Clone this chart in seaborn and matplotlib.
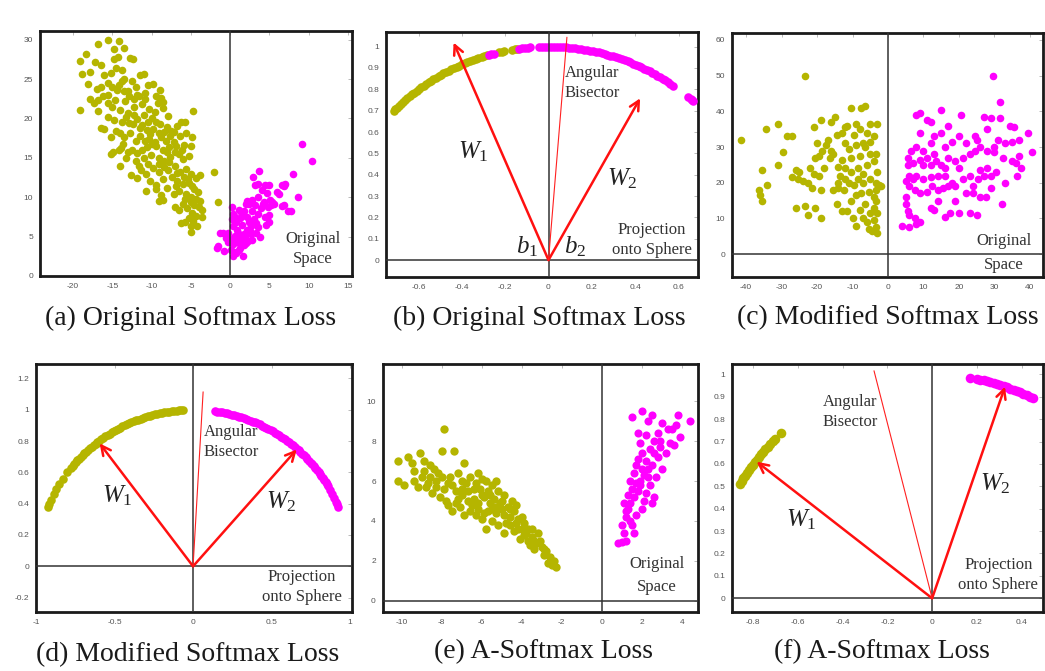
import numpy as np
import matplotlib
matplotlib.use("Agg")
import matplotlib.pyplot as plt
import seaborn as sns

OLIVE = "#b5b500"
MAGENTA = "#ff00ff"

# ---- (a) original space ----
a_olive = [
    (-15.5, 30), (-14.2, 29.8), (-13.5, 29), (-14.8, 28.8), (-16.8, 29.5), (-18.3, 28.2), (-19.1, 27.3),
    (-17.2, 27.2), (-16.5, 26.8), (-18.8, 25.7), (-17.8, 25.9), (-16.1, 25.5), (-15.2, 25.8), (-14.3, 27.8),
    (-12.8, 27.7), (-12.4, 27.6), (-14.8, 27.6), (-14.5, 26.4), (-13.8, 26.2),
    (-18.1, 24.4), (-17.0, 23.8), (-16.4, 24.0), (-15.6, 24.5), (-15.0, 24.0), (-14.2, 24.2), (-13.5, 23.5),
    (-12.5, 24.8), (-11.5, 25.5), (-11.0, 25.6), (-10.4, 24.3), (-9.8, 24.4), (-8.9, 23.6), (-8.8, 22.6),
    (-8.5, 22.1), (-9.5, 22.8), (-10.8, 23.2), (-11.9, 23.0), (-12.9, 22.9), (-13.4, 22.2), (-14.7, 22.4),
    (-15.6, 22.0), (-16.8, 22.3), (-17.3, 21.9), (-19.1, 21.1), (-15.1, 21.4), (-14.0, 21.1), (-13.0, 20.7),
    (-12.2, 21.5), (-11.2, 21.8), (-10.3, 21.2), (-9.6, 20.8), (-8.6, 21.3), (-4.7, 21.0), (-14.4, 23.6),
    (-13.8, 24.8), (-12.0, 24.0), (-10.8, 22.5), (-9.2, 21.9), (-7.9, 20.3), (-15.5, 23.0),
    (-16.5, 18.8), (-16.0, 18.6), (-15.2, 17.6), (-14.5, 18.4), (-14.0, 18.2), (-13.5, 17.7), (-12.9, 19.4),
    (-12.4, 19.3), (-11.8, 19.9), (-11.2, 19.2), (-10.6, 18.5), (-10.2, 18.0), (-9.8, 18.6), (-9.4, 19.5),
    (-8.9, 19.3), (-8.0, 18.9), (-7.5, 18.4), (-6.8, 19.1), (-6.2, 19.5), (-5.8, 19.6), (-5.6, 18.2),
    (-6.4, 17.8), (-7.2, 17.0), (-7.8, 16.4), (-8.5, 16.0), (-9.4, 16.5), (-10.0, 16.8), (-10.6, 16.4),
    (-11.2, 16.0), (-11.8, 15.6), (-12.5, 16.0), (-13.0, 15.8), (-13.6, 16.8), (-14.2, 16.0), (-14.9, 15.8),
    (-15.2, 15.5), (-13.9, 16.2), (-10.3, 17.4), (-9.6, 17.0), (-8.8, 17.6), (-8.2, 17.2), (-6.9, 16.5),
    (-5.9, 16.6), (-5.0, 16.5), (-4.8, 17.6), (-5.3, 15.2), (-6.5, 15.5), (-7.6, 15.1), (-9.0, 15.0),
    (-10.1, 15.4), (-11.0, 15.0), (-12.0, 17.2), (-12.8, 18.2), (-11.5, 17.8), (-14.8, 19.8), (-15.6, 20.2),
    (-13.2, 20.2),
    (-14.0, 13.9), (-12.0, 14.6), (-11.3, 13.5), (-10.5, 14.2), (-9.8, 13.7), (-9.0, 13.2), (-8.4, 13.8),
    (-7.8, 14.5), (-7.0, 14.0), (-6.4, 13.2), (-5.6, 13.6), (-5.0, 13.0), (-4.4, 12.4), (-3.9, 12.8),
    (-2.0, 13.2), (-12.6, 12.8), (-11.9, 12.5), (-10.2, 12.0), (-9.4, 11.6), (-8.6, 12.3), (-8.0, 11.2),
    (-7.4, 12.6), (-6.8, 12.1), (-6.0, 11.7), (-5.2, 11.8), (-4.6, 11.0), (-4.1, 10.6), (-5.6, 10.4),
    (-6.5, 10.8), (-8.8, 10.3), (-10.7, 10.8), (-5.0, 10.0), (-7.2, 10.4), (-9.5, 11.0), (-8.4, 14.6),
    (-13.2, 15.0), (-6.0, 14.8),
    (-8.5, 9.6), (-7.0, 8.7), (-6.0, 9.2), (-5.5, 8.6), (-5.0, 9.4), (-4.6, 9.0), (-4.0, 8.8),
    (-3.6, 8.4), (-3.8, 9.5), (-4.8, 8.0), (-4.4, 7.6), (-3.6, 7.5), (-5.3, 7.4), (-6.5, 8.4),
    (-5.8, 6.8), (-5.0, 6.4), (-4.2, 6.3), (-6.2, 6.7), (-5.0, 5.6), (-1.5, 9.4), (-4.7, 7.0), (-9.0, 9.5),
    (-13.0, 23.5), (-12.3, 22.5), (-11.6, 22.8), (-11.0, 20.5), (-10.5, 19.6), (-9.9, 20.0), (-9.1, 18.2),
    (-8.4, 18.3), (-7.7, 17.8), (-7.1, 18.3), (-10.8, 17.2), (-11.5, 18.8), (-12.3, 20.4), (-13.8, 19.5),
    (-9.0, 14.2), (-8.0, 15.8), (-7.0, 15.8), (-6.1, 16.0), (-7.9, 13.4), (-6.8, 13.1), (-5.9, 12.6),
    (-5.4, 12.3), (-6.9, 11.4), (-4.9, 11.4), (-4.3, 9.8), (-5.7, 9.8), (-11.6, 14.0), (-10.7, 13.0),
    (-13.5, 25.0), (-16.2, 22.8), (-17.8, 22.5), (-16.8, 21.0),
]
a_magenta = [
    (9.2, 16.7), (10.4, 14.6), (8.0, 12.9), (7.0, 11.7), (6.6, 11.5), (5.9, 10.7), (8.6, 10.0),
    (7.4, 8.3), (6.6, 8.9), (5.3, 9.4), (3.7, 13.3), (2.9, 12.6), (3.5, 11.7), (4.45, 11.5),
    (4.7, 10.5), (5.1, 9.6), (4.3, 9.4), (3.6, 10.0), (2.8, 9.7), (2.4, 9.2), (2.0, 9.1),
    (1.8, 8.3), (0.2, 8.7), (0.6, 7.5), (1.2, 7.3), (2.2, 7.5), (2.75, 8.3), (3.6, 7.9),
    (4.4, 7.5), (5.0, 7.7), (3.3, 6.7), (2.7, 6.3), (2.1, 5.9), (1.5, 6.5), (0.9, 5.9),
    (0.3, 6.3), (-0.9, 5.5), (-0.3, 5.5), (0.6, 5.1), (1.2, 5.1), (1.8, 5.3), (2.7, 5.3),
    (3.3, 5.5), (0.9, 4.3), (0.3, 4.1), (-0.3, 4.3), (1.5, 4.3), (2.3, 4.5), (-1.6, 3.8),
    (0.1, 3.3), (0.7, 2.9), (0.3, 2.5), (1.1, 3.3), (1.8, 3.9), (0.2, 7.2), (1.4, 8.1),
    (-1.7, 3.5), (-1.3, 5.4), (0.8, 6.8), (1.5, 7.6), (2.4, 6.9), (3.0, 7.2), (3.9, 8.6),
    (4.2, 9.1), (3.1, 9.0), (1.0, 5.5), (1.9, 4.9), (2.5, 5.7), (0.4, 4.8), (1.3, 3.6),
    (2.0, 4.2), (3.6, 6.2), (4.8, 8.8), (5.6, 9.2), (6.2, 10.4), (4.0, 10.9), (3.2, 11.5),
    (4.9, 11.6), (0.5, 3.0), (1.6, 2.6), (-0.5, 4.8), (-0.8, 3.2), (2.8, 4.6), (3.8, 5.0),
    (5.2, 9.0), (6.8, 9.0), (7.8, 8.2), (6.9, 11.4), (5.0, 6.8), (4.5, 6.5), (1.1, 8.4),
    (2.1, 9.5), (0.3, 7.9),
]

# ---- (c) modified softmax, original space ----
c_olive = [
    (-23.5, 50), (-41.5, 32), (-34.5, 35), (-31, 36.5), (-28.5, 33), (-27, 33), (-29.5, 28.5), (-31, 25),
    (-35.5, 23.5), (-34, 19.5), (-36.5, 18), (-36, 16.5), (-35.5, 15), (-26, 13), (-23.5, 13.5), (-22.5, 11),
    (-20.5, 13), (-19, 10), (-26, 23.5), (-25, 23), (-27, 21.5), (-25.5, 21), (-24, 20.5), (-22.5, 20),
    (-21.5, 18.5), (-19, 18), (-19.5, 22), (-21, 22.5), (-22, 24), (-20.5, 27), (-19.5, 27.5), (-18.5, 29),
    (-17.5, 30.5), (-17, 32), (-20, 31), (-21, 35.5), (-19, 37.5), (-16, 37), (-15, 38.5), (-16.5, 27),
    (-15.5, 28), (-14.5, 33.5), (-13, 34), (-12, 35.5), (-10.5, 41), (-11.5, 36), (-7.5, 41), (-6.5, 41.5),
    (-9, 36.5), (-8, 35), (-6, 34), (-5, 36.5), (-3, 36.5), (-4, 33), (-5, 31.5), (-7, 31), (-9, 30.5),
    (-11, 29.5), (-13, 26.5), (-14, 24.5), (-12, 24), (-10.5, 23), (-8.5, 21), (-7, 22.5), (-6, 25),
    (-4, 26), (-3.5, 28), (-5, 28), (-8, 27.5), (-10.5, 27), (-12, 21), (-14, 20), (-15.5, 18), (-14, 18.5),
    (-12.5, 18), (-11, 20), (-9.5, 19.5), (-7, 20), (-5, 21), (-3.5, 20), (-2.5, 19), (-3.5, 18),
    (-5.5, 17.5), (-7.5, 17), (-9, 16.5), (-10.5, 15), (-14.5, 14), (-13, 12), (-11.5, 12), (-10, 10),
    (-9, 8), (-7, 10), (-6, 9), (-5, 11.5), (-4, 13), (-3.5, 15), (-3, 11.5), (-4, 9.5), (-3.5, 7.5),
    (-4.5, 6.5), (-3, 6), (-5.5, 7), (-2.5, 19.5), (-6.5, 14), (-8, 12.5), (-4, 16), (-18, 24), (-16, 29),
    (-9.5, 33.5), (-6.5, 30), (-2, 19), (-3, 23), (-8.5, 24), (-12, 31), (-13.5, 22),
]
c_magenta = [
    (29.5, 50), (31.5, 42.5), (15, 40.5), (8, 39), (9, 39.5), (11, 37.5), (12, 37), (20.5, 39), (27, 38.5),
    (29, 38), (31.5, 38), (17, 36), (15, 34), (9, 34), (35.5, 35.5), (39.5, 34), (37, 32), (35, 31.5),
    (28, 35), (24.5, 33), (25, 32), (22, 31), (20, 33), (18, 31.5), (16, 30), (13, 33), (12, 31), (10, 29),
    (8, 30), (6.5, 29), (5.5, 27), (7, 25.5), (9, 26.5), (11, 27), (12, 25), (13.5, 26), (15, 25), (16, 24),
    (17, 27), (19, 26), (21, 27), (23, 28), (24.5, 29), (26, 30), (28, 29), (30, 30), (31, 32), (30, 28.5),
    (32.5, 27), (35, 26), (36, 25.5), (37, 27.5), (36.5, 22), (37.5, 24), (40.5, 28.5), (33, 20), (32, 14),
    (29, 18.5), (27.5, 16), (26, 16), (24, 17), (22, 17), (24, 19), (25.5, 21), (27, 22), (29, 22),
    (30.5, 23), (28, 24), (26, 23.5), (23, 22), (21, 21), (19, 19), (17, 19), (15.5, 18.5), (14, 18),
    (12.5, 19), (11, 17.5), (9, 17), (7.5, 18), (6, 19), (5, 20.5), (6, 22), (8, 22), (10, 21), (12, 21.5),
    (14, 22), (16, 22), (5.5, 25), (5, 16), (5, 14), (5.5, 12), (6, 11), (7.5, 10), (8, 8.5), (9, 9),
    (4, 8), (6, 7.5), (12, 13), (13, 12.5), (14, 15), (16, 10.5), (17.5, 11.5), (20, 11.5), (23, 11.5),
    (25, 11), (19, 15), (18, 20), (20, 24), (13, 28), (10, 25), (7, 21), (33, 31), (34.5, 36),
]

# ---- (e) A-softmax, original space ----
e_olive = [
    (-10.2, 7.0), (-10.2, 6.0), (-9.9, 5.8), (-9.7, 7.2), (-9.4, 6.5), (-9.1, 7.4), (-8.9, 7.0), (-8.6, 6.8),
    (-9.0, 6.2), (-9.2, 5.7), (-8.8, 5.7), (-8.4, 6.6), (-8.0, 7.5), (-7.9, 8.6), (-7.4, 7.5), (-8.3, 6.0),
    (-8.5, 5.4), (-8.1, 5.2), (-7.7, 5.9), (-7.2, 6.4), (-6.9, 6.9), (-6.6, 6.2), (-6.3, 5.9), (-6.0, 6.1),
    (-5.8, 6.0), (-5.5, 5.8), (-5.2, 5.5), (-7.8, 5.0), (-7.3, 4.9), (-7.0, 5.3), (-6.7, 5.5), (-6.5, 4.8),
    (-6.2, 4.6), (-5.9, 5.2), (-5.6, 4.9), (-5.3, 4.4), (-5.0, 5.0), (-4.7, 4.7), (-4.4, 4.5), (-4.8, 3.9),
    (-5.5, 4.0), (-6.0, 4.1), (-6.9, 4.3), (-7.5, 4.5), (-7.7, 4.8), (-4.2, 4.1), (-4.0, 3.6), (-3.8, 3.4),
    (-3.5, 3.2), (-3.3, 2.9), (-3.0, 2.7), (-2.8, 2.5), (-2.6, 2.2), (-2.4, 2.0), (-2.3, 1.7), (-2.5, 1.8),
    (-2.9, 2.3), (-3.4, 2.6), (-3.7, 3.0), (-4.1, 3.1), (-4.4, 3.5), (-4.9, 3.4), (-5.2, 3.8), (-5.8, 3.6),
    (-6.3, 4.3), (-7.1, 4.7), (-8.7, 5.9), (-6.1, 5.6), (-5.4, 5.1), (-4.6, 4.2), (-3.9, 3.9), (-3.2, 3.4),
    (-7.6, 6.2), (-6.8, 5.9), (-5.0, 4.6), (-4.5, 5.0), (-6.4, 5.1), (-8.2, 6.4), (-9.5, 6.9), (-7.0, 5.6),
    (-3.6, 2.8), (-2.7, 1.9), (-5.7, 4.5), (-4.3, 3.9),
    (-8.0, 6.2), (-7.5, 5.8), (-7.2, 5.1), (-6.7, 5.0), (-6.4, 5.6), (-6.0, 5.3), (-5.7, 5.5), (-5.5, 4.6),
    (-5.1, 4.9), (-4.9, 4.3), (-4.6, 3.8), (-4.2, 3.6), (-3.9, 3.3), (-3.7, 3.6), (-3.4, 3.0), (-3.1, 3.0),
    (-2.9, 2.6), (-8.6, 6.2), (-8.9, 6.5), (-7.3, 5.5), (-6.2, 4.9), (-5.9, 4.4), (-5.3, 4.7), (-4.6, 4.6),
    (-4.0, 4.2), (-3.5, 3.6), (-6.6, 4.5), (-7.9, 5.6), (-8.3, 5.7), (-9.4, 6.0), (-7.0, 6.0), (-6.2, 6.4),
    (-5.6, 5.3), (-4.9, 5.3), (-5.3, 6.0), (-4.3, 4.8),
]
e_magenta = [
    (0.8, 2.9), (1.0, 2.95), (1.2, 3.0), (1.1, 3.4), (1.0, 3.8), (1.2, 4.2), (1.4, 4.0), (1.1, 4.9), (1.4, 4.9),
    (1.6, 5.2), (1.5, 5.6), (1.8, 5.5), (1.4, 6.0), (1.6, 6.4), (1.9, 6.0), (2.0, 6.6), (1.7, 6.8), (2.2, 7.0),
    (2.0, 7.4), (2.4, 7.6), (1.9, 7.9), (2.6, 8.0), (2.2, 8.3), (2.8, 8.4), (3.0, 8.9), (2.5, 9.3), (2.0, 9.5),
    (1.5, 9.2), (3.3, 8.6), (3.8, 9.3), (4.4, 9.0), (3.5, 8.6), (3.6, 7.8), (3.9, 8.2), (3.2, 7.4), (2.8, 7.2),
    (2.5, 6.8), (2.7, 6.2), (2.4, 5.8), (2.2, 5.4), (2.5, 4.9), (2.0, 4.6), (1.7, 4.3), (1.5, 3.8), (3.0, 6.6),
    (3.4, 7.9), (2.9, 8.0), (1.3, 4.6), (2.3, 6.2), (1.8, 7.1), (2.6, 5.2), (1.6, 3.4), (2.1, 5.0), (3.7, 8.8),
    (2.3, 9.0), (1.8, 8.4), (1.9, 5.8), (2.1, 6.3), (2.3, 6.6), (1.7, 5.9), (2.6, 7.4), (2.9, 7.7),
    (1.3, 5.3), (1.2, 4.5),
]

# ---- projections onto the unit circle: angles in degrees ----
b_olive_deg = [106.5, 107.3, 108.0, 108.9, 109.6, 110.4, 111.2, 112.0, 112.8, 113.5, 114.3, 115.1, 115.9,
               116.6, 117.4, 118.2, 119.0, 119.7, 120.5, 121.3, 122.1, 122.8, 123.6, 124.4, 125.2, 125.9,
               126.7, 127.5, 128.3, 129.0, 129.8, 130.6, 131.4, 132.1, 132.9, 133.7, 134.5, 135.1, 135.6,
               103.3, 102.4, 101.8, 99.6, 98.9, 98.4]
b_magenta_deg = [106.0, 105.3, 104.7, 97.9, 97.0, 96.2, 95.5, 94.8,
                 92.6, 91.8, 91.0, 90.2, 89.4, 88.6, 87.8, 87.0, 86.2, 85.4, 84.6, 83.8, 83.0, 82.2, 81.4,
                 80.6, 79.8, 79.0, 78.2, 77.4, 76.6, 75.8, 75.0, 74.2, 73.4, 72.6, 71.8, 71.0, 70.2, 69.4,
                 68.6, 67.8, 67.0, 66.2, 65.4, 64.6, 63.8, 63.0, 62.2, 61.4, 60.6, 59.8, 59.0, 58.2, 57.4,
                 56.6, 55.8, 54.8, 49.8, 49.0, 48.4, 48.0]
d_olive_deg = [157.7, 156.6, 154.8, 152.3, 150.6, 148.3, 146.1, 143.2,
               141.0, 140.1, 139.2, 138.3, 137.4, 136.5, 135.6, 134.7, 133.8, 132.9, 132.0, 131.1, 130.2,
               129.3, 128.4, 127.5, 126.6, 125.7, 124.8, 123.9, 123.0, 122.1, 121.2, 120.3, 119.4, 118.5,
               117.6, 116.7, 115.8, 114.9, 114.0, 113.1, 112.2, 111.3, 110.4, 109.5, 108.6, 107.7, 106.8,
               105.9, 105.0, 104.1, 103.2, 102.3, 101.4, 100.5, 99.6, 98.7, 97.8, 96.9, 96.0, 95.1, 94.3, 93.7]
d_magenta_deg = [82.0, 81.1, 80.2, 79.3, 78.4, 77.5, 76.6, 75.7, 74.8, 73.9, 73.0, 72.1, 71.2, 70.3, 69.4,
                 68.5, 67.6, 66.7, 65.8, 64.9, 64.0, 63.1, 62.2, 61.3, 60.4, 59.5, 58.6, 57.7, 56.8, 55.9,
                 55.0, 54.1, 53.2, 52.3, 51.4, 50.5, 49.6, 48.7, 47.8, 46.9, 46.0, 45.1, 44.2, 43.3, 42.4,
                 41.5, 40.6, 39.7, 38.8, 37.9, 37.0, 36.1, 35.2, 34.3, 33.4, 32.5, 31.6, 30.7, 29.3,
                 27.5, 26.0, 24.4, 23.3, 22.3]
f_olive_deg = [149.3, 148.5, 147.6, 146.8, 145.9, 145.1, 144.2, 143.4, 142.5, 141.7, 140.8, 140.0, 139.1,
               138.3, 137.4, 136.5, 135.5, 134.5, 132.5]
f_magenta_deg = [80.3, 78.5, 77.6, 76.7, 75.8, 74.9, 74.0, 73.1, 72.2, 71.3, 70.4, 69.5, 68.6, 67.7, 66.8,
                 65.9, 65.0, 64.1, 63.3]

# weight vectors (arrow tips) and angular bisectors
b_w1, b_w2, b_bis = (-0.438, 1.019), (0.423, 0.758), (0.085, 1.044)
d_w1, d_w2, d_bis = (-0.595, 0.785), (0.66, 0.746), (0.064, 1.114)
f_w1, f_w2, f_bis = (-0.785, 0.61), (0.326, 0.945), (-0.26, 1.016)

captions = ["(a) Original Softmax Loss", "(b) Original Softmax Loss", "(c) Modified Softmax Loss",
            "(d) Modified Softmax Loss", "(e) A-Softmax Loss", "(f) A-Softmax Loss"]

sns.set_style("white")
plt.rcParams["font.family"] = ["Liberation Serif", "DejaVu Serif"]
plt.rcParams["mathtext.fontset"] = "custom"
plt.rcParams["mathtext.rm"] = "Liberation Serif"
plt.rcParams["mathtext.it"] = "Liberation Serif:italic"
plt.rcParams["axes.unicode_minus"] = False

W, H = 1045, 671
fig = plt.figure(figsize=(W / 100, H / 100), dpi=100)


def make_ax(l, r, t, b):
    return fig.add_axes([l / W, 1 - b / H, (r - l) / W, (b - t) / H])


def style(ax, xlim, ylim, xticks, yticks, hline=True):
    ax.set_xlim(*xlim)
    ax.set_ylim(*ylim)
    ax.set_xticks(xticks)
    ax.set_yticks(yticks)
    ax.set_xticklabels(["%g" % v for v in xticks], family="Liberation Sans")
    ax.set_yticklabels(["%g" % v for v in yticks], family="Liberation Sans")
    ax.tick_params(direction="in", length=3, width=0.6, color="#b0b0b0", top=True, right=True,
                   labelsize=6, labelcolor="#555555", pad=5)
    for sp in ax.spines.values():
        sp.set_linewidth(2)
        sp.set_color("#1a1a1a")
    ax.axvline(0, color="#333333", lw=1.1, zorder=4)
    if hline:
        ax.axhline(0, color="#333333", lw=1.1, zorder=4)
    ax.set_xlabel("")
    ax.set_ylabel("")


def scatter(ax, pts, color, s=30):
    xs = [p[0] for p in pts]
    ys = [p[1] for p in pts]
    sns.scatterplot(x=xs, y=ys, color=color, s=s, linewidth=0, ax=ax, zorder=3)


def arc(ax, deg, color, s=38):
    rad = np.deg2rad(deg)
    sns.scatterplot(x=np.cos(rad), y=np.sin(rad), color=color, s=s, linewidth=0, ax=ax, zorder=3)


def vectors(ax, w1, w2, bis):
    for tip in (w1, w2):
        ax.annotate("", xy=tip, xytext=(0, 0),
                    arrowprops=dict(arrowstyle="->", color="#ff1010", lw=1.8, mutation_scale=17,
                                    shrinkA=0, shrinkB=0), zorder=5)
    ax.plot([0, bis[0]], [0, bis[1]], color="#ff2020", lw=0.8, zorder=5)


note = dict(fontsize=12, color="#333333", ha="center", va="center", linespacing=1.35)
wlab = dict(fontsize=18, color="#222222", ha="center", va="center")

# (a)
ax = make_ax(40, 352, 31, 276)
scatter(ax, a_olive, OLIVE)
scatter(ax, a_magenta, MAGENTA)
style(ax, (-24.2, 15.5), (0, 31.1), list(range(-20, 16, 5)), list(range(0, 31, 5)), hline=False)
ax.text(10.5, 3.4, "Original\nSpace", **note)

# (b)
ax = make_ax(386, 698, 31.7, 276.7)
arc(ax, b_olive_deg, OLIVE)
arc(ax, b_magenta_deg, MAGENTA)
style(ax, (-0.75, 0.69), (-0.078, 1.07), [-0.6, -0.4, -0.2, 0, 0.2, 0.4, 0.6],
      [0, 0.1, 0.2, 0.3, 0.4, 0.5, 0.6, 0.7, 0.8, 0.9, 1])
vectors(ax, b_w1, b_w2, b_bis)
ax.text(-0.346, 0.508, r"$W_{\mathit{1}}$", **wlab)
ax.text(0.339, 0.383, r"$W_{\mathit{2}}$", **wlab)
ax.text(-0.1, 0.062, r"$b_{\mathit{1}}$", **wlab)
ax.text(0.123, 0.062, r"$b_{\mathit{2}}$", **wlab)
ax.text(0.203, 0.83, "Angular\nBisector", **note)
ax.text(0.478, 0.094, "Projection\nonto Sphere", **note)

# (c)
ax = make_ax(732, 1043, 32.7, 276.7)
scatter(ax, c_olive, OLIVE)
scatter(ax, c_magenta, MAGENTA)
style(ax, (-44, 43.7), (-6.3, 62), list(range(-40, 41, 10)), list(range(0, 61, 10)))
ax.text(32.7, 3.8, "Original", **note)
ax.text(32.7, -3.0, "Space", **note)

# (d)
ax = make_ax(36, 351.7, 364.3, 611.7)
arc(ax, d_olive_deg, OLIVE)
arc(ax, d_magenta_deg, MAGENTA)
style(ax, (-1.0, 1.01), (-0.29, 1.29), [-1, -0.5, 0, 0.5, 1],
      [-0.2, 0, 0.2, 0.4, 0.6, 0.8, 1, 1.2])
vectors(ax, d_w1, d_w2, d_bis)
ax.text(-0.48, 0.454, r"$W_{\mathit{1}}$", **wlab)
ax.text(0.564, 0.41, r"$W_{\mathit{2}}$", **wlab)
ax.text(0.245, 0.795, "Angular\nBisector", **note)
ax.text(0.69, -0.13, "Projection\nonto Sphere", **note)

# (e)
ax = make_ax(382.7, 698.3, 364.3, 611.7)
scatter(ax, e_olive, OLIVE, s=36)
scatter(ax, e_magenta, MAGENTA, s=34)
style(ax, (-10.95, 4.83), (-0.54, 11.84), list(range(-10, 5, 2)), list(range(0, 11, 2)))
ax.text(2.75, 1.84, "Original", **note)
ax.text(2.75, 0.69, "Space", **note)

# (f)
ax = make_ax(732.3, 1043, 364.3, 611.7)
arc(ax, f_olive_deg, OLIVE, s=48)
arc(ax, f_magenta_deg, MAGENTA, s=48)
style(ax, (-0.894, 0.496), (-0.06, 1.045), [-0.8, -0.6, -0.4, -0.2, 0, 0.2, 0.4],
      [0, 0.1, 0.2, 0.3, 0.4, 0.5, 0.6, 0.7, 0.8, 0.9, 1])
vectors(ax, f_w1, f_w2, f_bis)
ax.text(-0.584, 0.35, r"$W_{\mathit{1}}$", **wlab)
ax.text(0.281, 0.513, r"$W_{\mathit{2}}$", **wlab)
ax.text(-0.368, 0.833, "Angular\nBisector", **note)
ax.text(0.296, 0.104, "Projection\nonto Sphere", **note)

# captions below each panel
cap_pos = [(191, 318), (539, 318), (888, 318), (188, 655), (543, 652), (882, 652)]
for txt, (cx, cy) in zip(captions, cap_pos):
    fig.text(cx / W, 1 - cy / H, txt, fontsize=20, color="#1a1a1a", ha="center", va="center")

fig.savefig("out.png", dpi=100, facecolor="white")
